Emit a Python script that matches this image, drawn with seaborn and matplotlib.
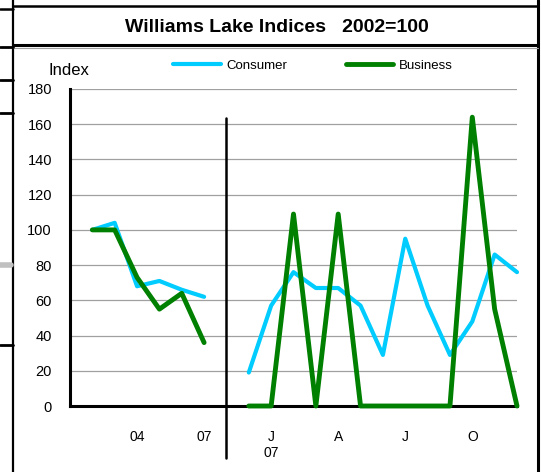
import matplotlib
matplotlib.use("Agg")
import matplotlib.pyplot as plt
from matplotlib.lines import Line2D
import seaborn as sns
import pandas as pd

# --------- data (2002 = 100)
years = ['02', '03', '04', '05', '06', '07']
consumer_annual = [100, 104, 68, 71, 66, 62]
business_annual = [100, 100, 73, 55, 64, 36]

months = ['D', 'J\n07', 'F', 'M', 'A', 'M', 'J', 'J', 'A', 'S', 'O', 'N', 'D']  # Dec 06 .. Dec 07
consumer_monthly = [19, 57, 76, 67, 67, 57, 29, 95, 57, 29, 48, 86, 76]
business_monthly = [0, 0, 109, 0, 109, 0, 0, 0, 0, 0, 164, 55, 0]

yticks = [0, 20, 40, 60, 80, 100, 120, 140, 160, 180]

# category positions: annual block, one empty slot for the divider, monthly block
annual_pos = list(range(1, len(years) + 1))
sep_pos = len(years) + 1
monthly_pos = list(range(sep_pos + 1, sep_pos + 1 + len(months)))
all_pos = annual_pos + [sep_pos] + monthly_pos
all_labels = years + [''] + months

rows = []
for name, ann, mon in [('Consumer', consumer_annual, consumer_monthly),
                       ('Business', business_annual, business_monthly)]:
    rows += [dict(x=p, value=v, series=name, seg='annual') for p, v in zip(annual_pos, ann)]
    rows += [dict(x=p, value=v, series=name, seg='monthly') for p, v in zip(monthly_pos, mon)]
df = pd.DataFrame(rows)

# --------- figure
sns.set_style('white')
plt.rcParams['font.family'] = ['Liberation Sans', 'DejaVu Sans']
plt.rcParams.update({'text.color': 'black', 'axes.labelcolor': 'black',
                     'xtick.color': 'black', 'ytick.color': 'black'})

W, H = 541, 472
fig = plt.figure(figsize=(W / 100, H / 100), dpi=100)
ax = fig.add_axes([70 / W, 1 - 406 / H, (517 - 70) / W, (406 - 89) / H])

palette = {'Consumer': '#00CCFF', 'Business': '#008000'}
sns.lineplot(data=df, x='x', y='value', hue='series', units='seg', estimator=None,
             hue_order=['Consumer', 'Business'], palette=palette, linewidth=3.5,
             zorder=3, clip_on=False, ax=ax)
for ln in ax.lines:
    if ln.get_color() == palette['Consumer']:
        ln.set_linewidth(3.0)
    ln.set_solid_joinstyle('round')

ax.set_xlim(0, all_pos[-1])
ax.set_ylim(0, 180)
ax.set_yticks(yticks)
ax.set_xticks(all_pos)
ax.set_xticklabels([lab if p % 3 == 0 else '' for p, lab in zip(all_pos, all_labels)])
ax.set_xlabel('')
ax.set_ylabel('')
ax.yaxis.grid(True, color='#A0A0A0', linewidth=0.9)
ax.set_axisbelow(True)
for s in ['top', 'right']:
    ax.spines[s].set_visible(False)
for s in ['left', 'bottom']:
    ax.spines[s].set_linewidth(2.2)
    ax.spines[s].set_color('black')
ax.tick_params(axis='y', direction='in', length=3, width=1.5, pad=13, labelsize=10.5)
ax.tick_params(axis='x', direction='in', length=3, width=1.5, pad=17, labelsize=10)

# divider between annual and monthly blocks
ax.axvline(sep_pos, ymin=-0.165, ymax=0.91, color='black', linewidth=1.8, clip_on=False, zorder=4)

handles, labels = ax.get_legend_handles_labels()
ax.legend(handles, labels, loc='center', bbox_to_anchor=(313 / W, 1 - 66 / H),
          bbox_transform=fig.transFigure, ncol=2, frameon=False, fontsize=9.5,
          handlelength=3.6, handletextpad=0.45, columnspacing=4.4)

fig.text(49 / W, 1 - 71 / H, 'Index', fontsize=12, ha='left', va='center')
fig.text(277 / W, 1 - 27 / H, 'Williams Lake Indices   2002=100',
         fontsize=14, fontweight='bold', ha='center', va='center')

# spreadsheet cell borders around the chart
def fline(x0, x1, y0, y1, lw, color='black'):
    fig.add_artist(Line2D([x0 / W, x1 / W], [1 - y0 / H, 1 - y1 / H],
                          color=color, linewidth=lw, transform=fig.transFigure))

fline(13, 13, 0, H, 1.6)
fline(538, 538, 0, H, 2.2)
fline(13, 538, 6, 6, 1.8)
fline(0, 13, 9, 9, 1.8)
fline(13, 538, 45, 45, 2.2)
fline(13, 538, 48, 48, 0.8, '#A0A0A0')
for yy in [47, 80, 113, 345]:
    fline(0, 13, yy, yy, 2.0)
fline(0, 11, 265, 265, 4.0, '#C0C0C0')

fig.savefig('out.png', dpi=100)
